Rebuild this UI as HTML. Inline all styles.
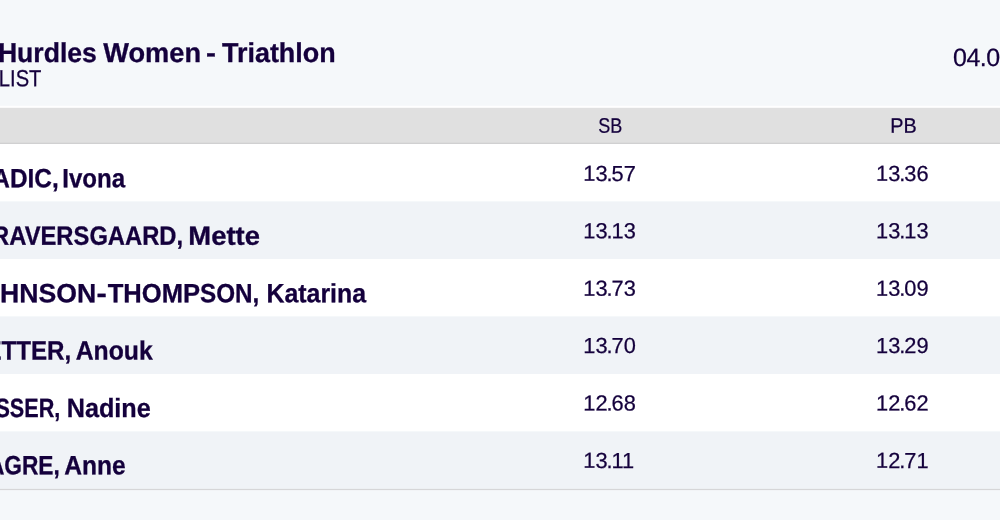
<!DOCTYPE html>
<html lang="en"><head><meta charset="utf-8"><title>100m Hurdles Women - Triathlon</title>
<style>
html,body{margin:0;padding:0}
body{width:1000px;height:520px;overflow:hidden;position:relative;background:#f5f8fa;font-family:"Liberation Sans", sans-serif;color:#14003c}
.bg{position:absolute;left:0;top:0}
h1,p{margin:0;font:inherit}
.w{position:absolute;left:0;top:0;white-space:nowrap;line-height:1;transform-origin:0 0}
.w i{font-style:normal;position:absolute;right:100%;top:0}
.w{-webkit-text-stroke:0.25px}
.b{font-weight:700;-webkit-text-stroke:0.3px}
.p{margin:0 -1.3px}
.n{font-size:21.8px;letter-spacing:0.17px}
</style></head><body>
<svg class="bg" width="1000" height="520" viewBox="0 0 1000 520">
<rect x="0" y="0" width="1000" height="520" fill="#f5f8fa"/>
<rect x="0" y="105.8" width="1000" height="3" fill="#ffffff"/>
<rect x="0" y="107.8" width="1000" height="36" fill="#e0e0e0"/>
<rect x="0" y="142.7" width="1000" height="1.3" fill="#d0d0d1"/>
<rect x="0" y="144" width="1000" height="57.5" fill="#ffffff"/>
<rect x="0" y="201.5" width="1000" height="57.5" fill="#f0f3f7"/>
<rect x="0" y="259" width="1000" height="57.5" fill="#ffffff"/>
<rect x="0" y="316.5" width="1000" height="57.5" fill="#f0f3f7"/>
<rect x="0" y="374" width="1000" height="57.5" fill="#ffffff"/>
<rect x="0" y="431.5" width="1000" height="57.5" fill="#f0f3f7"/>
<rect x="0" y="488.9" width="1000" height="1.2" fill="#d6d6d8"/>
</svg>
<header>
<h1><span class="w b" style="font-size:27.30px;transform:matrix(0.9741,.0006,0,1,-2.10,38.88)"><i>100m&nbsp;</i>Hurdles</span> <span class="w b" style="font-size:27.30px;transform:matrix(0.9970,.0006,0,1,103.26,38.88)">Women</span> <span class="w b" style="font-size:27.30px;transform:matrix(1.0915,.0006,0,1,206.08,38.88)">-</span> <span class="w b" style="font-size:27.30px;transform:matrix(0.9860,.0006,0,1,222.00,38.88)">Triathlon</span></h1>
<p><span class="w" style="font-size:23.30px;transform:matrix(0.8658,.0006,0,1,-1.16,67.27)"><i>START&nbsp;</i>LIST</span></p>
<time><span class="w" style="font-size:25.00px;letter-spacing:-0.50px;transform:matrix(1.0000,.0006,0,1,953.00,45.04)">04.08.2019</span></time>
</header>
<main role="table">
<div class="thead" role="row"><span class="w" style="font-size:21.00px;transform:matrix(0.8587,.0006,0,1,598.30,114.72)">SB</span> <span class="w" style="font-size:21.00px;transform:matrix(0.9458,.0006,0,1,890.20,114.72)">PB</span></div>
<div class="row" role="row"><span class="w b" style="font-size:26.40px;transform:matrix(0.9240,.0006,0,1,9.99,165.33)"><i>DA</i>DIC,</span> <span class="w b" style="font-size:26.40px;transform:matrix(0.9119,.0006,0,1,62.26,165.33)">Ivona</span> <span class="w n" style="transform:matrix(1,.0006,0,1,583.20,162.87)">13<span class="p">.</span>57</span> <span class="w n" style="transform:matrix(1,.0006,0,1,875.90,162.87)">13<span class="p">.</span>36</span></div>
<div class="row" role="row"><span class="w b" style="font-size:26.40px;transform:matrix(0.9006,.0006,0,1,9.26,222.73)"><i>GR</i>AVERSGAARD,</span> <span class="w b" style="font-size:26.40px;transform:matrix(1.0387,.0006,0,1,188.31,222.73)">Mette</span> <span class="w n" style="transform:matrix(1,.0006,0,1,583.20,220.27)">13<span class="p">.</span>13</span> <span class="w n" style="transform:matrix(1,.0006,0,1,875.90,220.27)">13<span class="p">.</span>13</span></div>
<div class="row" role="row"><span class="w b" style="font-size:26.40px;transform:matrix(1.0090,.0006,0,1,0.11,280.13)"><i>JO</i>HNSON</span><span class="w b" style="font-size:26.40px;transform:matrix(1.1688,.0006,0,1,96.51,280.13)">-</span><span class="w b" style="font-size:26.40px;transform:matrix(0.9688,.0006,0,1,107.74,280.13)">THOMP</span><span class="w b" style="font-size:26.40px;transform:matrix(0.9192,.0006,0,1,200.00,280.13)">SON,</span> <span class="w b" style="font-size:26.40px;transform:matrix(0.9435,.0006,0,1,266.46,280.13)">Katarina</span> <span class="w n" style="transform:matrix(1,.0006,0,1,583.20,277.67)">13<span class="p">.</span>73</span> <span class="w n" style="transform:matrix(1,.0006,0,1,875.90,277.67)">13<span class="p">.</span>09</span></div>
<div class="row" role="row"><span class="w b" style="font-size:26.40px;transform:matrix(0.9140,.0006,0,1,16.25,337.53)"><i>VET</i>TER,</span> <span class="w b" style="font-size:26.40px;transform:matrix(0.9371,.0006,0,1,75.74,337.53)">Anouk</span> <span class="w n" style="transform:matrix(1,.0006,0,1,583.20,335.07)">13<span class="p">.</span>70</span> <span class="w n" style="transform:matrix(1,.0006,0,1,875.90,335.07)">13<span class="p">.</span>29</span></div>
<div class="row" role="row"><span class="w b" style="font-size:26.40px;transform:matrix(0.8187,.0006,0,1,9.82,394.93)"><i>VIS</i>SER,</span> <span class="w b" style="font-size:26.40px;transform:matrix(0.9551,.0006,0,1,66.70,394.93)">Nadine</span> <span class="w n" style="transform:matrix(1,.0006,0,1,583.20,392.47)">12<span class="p">.</span>68</span> <span class="w n" style="transform:matrix(1,.0006,0,1,875.90,392.47)">12<span class="p">.</span>62</span></div>
<div class="row" role="row"><span class="w b" style="font-size:26.40px;transform:matrix(0.8603,.0006,0,1,4.30,452.33)"><i>ZA</i>GRE,</span> <span class="w b" style="font-size:26.40px;transform:matrix(0.9316,.0006,0,1,64.24,452.33)">Anne</span> <span class="w n" style="transform:matrix(1,.0006,0,1,583.20,449.87)">13<span class="p">.</span>11</span> <span class="w n" style="transform:matrix(1,.0006,0,1,875.90,449.87)">12<span class="p">.</span>71</span></div>
</main>
</body></html>
